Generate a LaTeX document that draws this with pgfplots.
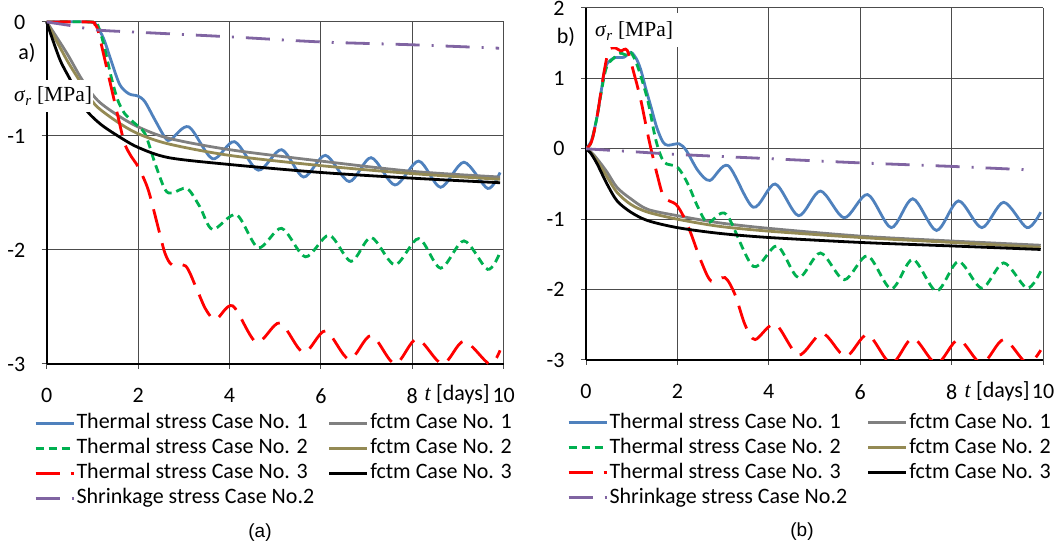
\documentclass[border=0pt]{standalone}
\usepackage{fontspec}
\setmainfont{Carlito}
\newfontfamily\capfont{Liberation Sans}
\newfontfamily\labfont{Liberation Serif}
\usepackage{pgfplots}
\pgfplotsset{compat=1.18}

\definecolor{cblue}{HTML}{4F81BD}
\definecolor{cgreen}{HTML}{00B050}
\definecolor{cred}{HTML}{FF0000}
\definecolor{cpurple}{HTML}{8064A2}
\definecolor{cgray}{HTML}{808080}
\definecolor{colive}{HTML}{948A54}

\pgfplotsset{
  panel/.style={
    scale only axis,
    xmin=0, xmax=10, xtick={0,2,...,10},
    grid=major, grid style={black!70, line width=1pt},
    axis x line*=bottom, axis y line*=left,
    axis line style={black, line width=1.8pt},
    tick align=outside, major tick length=5pt,
    tick style={black!70, line width=1pt},
    ticklabel style={font=\fontsize{22}{26}\selectfont},
    xticklabel style={yshift=-16pt},
    yticklabel style={xshift=-13pt},
    /pgf/number format/assume math mode=true,
    legend columns=2,
    legend cell align=left,
    legend style={draw=none, fill=none, inner sep=0pt, anchor=north west,
      font=\fontsize{22}{26}\selectfont, row sep=3pt, column sep=0pt,
      nodes={inner sep=1.5pt, text height=15pt, text depth=4pt}},
    legend image code/.code={\draw[##1] (0pt,0pt) -- (38pt,0pt);},
  },
  th1/.style={color=cblue, line width=2.8pt, smooth},
  th2/.style={color=cgreen, line width=2.8pt, smooth, dash pattern=on 8pt off 5pt},
  th3/.style={color=cred, line width=2.8pt, smooth, dash pattern=on 24pt off 11pt},
  shr/.style={color=cpurple, line width=2.8pt, smooth, dash pattern=on 24pt off 12pt on 2pt off 12pt},
  fc1/.style={color=cgray, line width=2.8pt, smooth},
  fc2/.style={color=colive, line width=2.8pt, smooth},
  fc3/.style={color=black, line width=2.8pt, smooth},
}

\begin{document}
\begin{tikzpicture}
\useasboundingbox (0,0) rectangle (1057pt,548pt);

% ---- panel (a)
\begin{axis}[panel, at={(46.7pt,184pt)}, anchor=south west,
  width=457pt, height=342pt,
  ymin=-3, ymax=0, ytick={-3,-2,-1,0}, clip=false,
  legend style={at={(-12.7pt,-48pt)}}]
\addplot[th1] coordinates {(0,0) (0.95,0) (1.1,-0.04) (1.25,-0.15) (1.41,-0.34) (1.6,-0.55) (1.8,-0.63) (2.0,-0.65) (2.15,-0.7) (2.37,-0.86) (2.6,-1.02) (2.72,-1.03) (3.11,-0.92) (3.63,-1.2) (4.11,-1.05) (4.63,-1.3) (5.14,-1.12) (5.62,-1.36) (6.1,-1.17) (6.62,-1.4) (7.1,-1.19) (7.62,-1.43) (8.14,-1.22) (8.62,-1.45) (9.13,-1.23) (9.65,-1.46) (9.92,-1.32)};
\addlegendentry{\makebox[250pt][l]{Thermal stress Case No. 1}}
\addplot[fc1] coordinates {(0,0) (0.1,-0.06) (0.45,-0.28) (0.78,-0.51) (1.12,-0.69) (1.56,-0.82) (2,-0.92) (2.67,-1.02) (4,-1.12) (6,-1.22) (8,-1.31) (9.92,-1.36)};
\addlegendentry{fctm Case No. 1}
\addplot[th2] coordinates {(0,0) (1.0,0) (1.12,-0.03) (1.25,-0.2) (1.41,-0.48) (1.55,-0.68) (1.7,-0.8) (1.9,-0.88) (2.15,-0.98) (2.37,-1.24) (2.59,-1.47) (2.75,-1.5) (3.07,-1.46) (3.35,-1.62) (3.63,-1.82) (4.15,-1.69) (4.63,-1.98) (5.14,-1.81) (5.66,-2.06) (6.18,-1.87) (6.66,-2.1) (7.1,-1.89) (7.62,-2.13) (8.14,-1.9) (8.62,-2.16) (9.13,-1.92) (9.65,-2.17) (9.92,-2.02)};
\addlegendentry{Thermal stress Case No. 2}
\addplot[fc2] coordinates {(0,0) (0.1,-0.08) (0.45,-0.34) (0.71,-0.51) (0.9,-0.64) (1.12,-0.75) (1.56,-0.88) (2,-0.98) (2.67,-1.07) (4,-1.17) (6,-1.26) (8,-1.33) (9.92,-1.38)};
\addlegendentry{fctm Case No. 2}
\addplot[th3] coordinates {(0,0) (0.95,0) (1.05,-0.02) (1.12,-0.07) (1.26,-0.31) (1.41,-0.57) (1.56,-0.83) (1.7,-1.06) (1.85,-1.18) (2.0,-1.27) (2.22,-1.47) (2.45,-1.82) (2.59,-2.03) (2.74,-2.13) (3.04,-2.14) (3.26,-2.32) (3.48,-2.52) (3.7,-2.61) (4.07,-2.49) (4.59,-2.81) (5.1,-2.64) (5.62,-2.9) (6.1,-2.71) (6.62,-2.96) (7.1,-2.75) (7.62,-3.0) (8.1,-2.78) (8.66,-3.0) (9.13,-2.8) (9.69,-3.0) (9.92,-2.88)};
\addlegendentry{Thermal stress Case No. 3}
\addplot[fc3] coordinates {(0,0) (0.1,-0.12) (0.3,-0.34) (0.52,-0.51) (0.7,-0.66) (0.9,-0.79) (1.19,-0.9) (1.56,-1.0) (2.0,-1.1) (2.67,-1.19) (4,-1.25) (6,-1.32) (8,-1.37) (9.92,-1.41)};
\addlegendentry{fctm Case No. 3}
\addplot[shr] coordinates {(0,0) (0.5,-0.03) (1.1,-0.07) (2,-0.09) (4,-0.13) (6,-0.175) (8,-0.2) (9.9,-0.23)};
\addlegendentry{Shrinkage stress Case No.2}
\end{axis}

% ---- panel (b)
\begin{axis}[panel, at={(586pt,188pt)}, anchor=south west,
  width=457pt, height=352pt,
  ymin=-3, ymax=2, ytick={-3,-2,...,2},
  legend style={at={(-19pt,-48pt)}}]
\addplot[th1] coordinates {(0,0) (0.12,0.12) (0.24,0.45) (0.34,0.85) (0.43,1.17) (0.61,1.29) (0.83,1.3) (0.98,1.37) (1.1,1.28) (1.2,1.12) (1.31,0.85) (1.42,0.6) (1.55,0.3) (1.68,0.1) (1.79,0.05) (2.04,0.07) (2.2,-0.03) (2.45,-0.31) (2.71,-0.45) (3.11,-0.24) (3.66,-0.83) (4.14,-0.5) (4.65,-0.95) (5.13,-0.6) (5.65,-0.98) (6.16,-0.65) (6.68,-1.12) (7.15,-0.71) (7.67,-1.16) (8.15,-0.74) (8.66,-1.12) (9.14,-0.76) (9.65,-1.12) (9.95,-0.9)};
\addlegendentry{\makebox[256pt][l]{Thermal stress Case No. 1}}
\addplot[fc1] coordinates {(0,0) (0.1,-0.04) (0.24,-0.14) (0.46,-0.33) (0.68,-0.55) (0.98,-0.71) (1.35,-0.86) (2,-0.95) (2.9,-1.05) (4,-1.13) (6,-1.24) (8,-1.31) (9.95,-1.37)};
\addlegendentry{fctm Case No. 1}
\addplot[th2] coordinates {(0,0) (0.12,0.1) (0.24,0.45) (0.43,1.12) (0.61,1.29) (0.76,1.36) (0.87,1.33) (0.98,1.37) (1.13,1.17) (1.35,0.69) (1.53,0.12) (1.71,-0.19) (2.0,-0.26) (2.23,-0.5) (2.45,-0.83) (2.67,-1.05) (3.07,-0.93) (3.66,-1.67) (4.18,-1.38) (4.65,-1.83) (5.13,-1.48) (5.65,-1.86) (6.16,-1.52) (6.68,-1.99) (7.15,-1.57) (7.67,-2.02) (8.15,-1.6) (8.66,-1.98) (9.14,-1.62) (9.65,-1.98) (9.95,-1.74)};
\addlegendentry{Thermal stress Case No. 2}
\addplot[fc2] coordinates {(0,0) (0.1,-0.05) (0.24,-0.17) (0.46,-0.4) (0.68,-0.62) (0.98,-0.79) (1.35,-0.9) (2,-1.0) (2.9,-1.1) (4,-1.17) (6,-1.26) (8,-1.33) (9.95,-1.4)};
\addlegendentry{fctm Case No. 2}
\addplot[th3] coordinates {(0,0) (0.12,0.1) (0.24,0.45) (0.39,1.07) (0.5,1.4) (0.65,1.43) (0.76,1.39) (0.9,1.4) (1.05,1.07) (1.2,0.69) (1.38,0.12) (1.57,-0.4) (1.71,-0.69) (1.97,-0.79) (2.15,-0.98) (2.3,-1.21) (2.52,-1.6) (2.74,-1.88) (3.04,-1.83) (3.26,-2.07) (3.48,-2.5) (3.7,-2.71) (4.14,-2.49) (4.65,-2.93) (5.17,-2.62) (5.68,-2.95) (6.16,-2.64) (6.68,-3.05) (7.15,-2.69) (7.67,-3.05) (8.15,-2.71) (8.66,-3.05) (9.14,-2.71) (9.65,-3.05) (9.95,-2.86)};
\addlegendentry{Thermal stress Case No. 3}
\addplot[fc3] coordinates {(0,0) (0.1,-0.06) (0.24,-0.21) (0.46,-0.5) (0.68,-0.74) (0.98,-0.9) (1.35,-1.02) (2,-1.12) (2.9,-1.2) (4,-1.26) (6,-1.33) (8,-1.38) (9.95,-1.43)};
\addlegendentry{fctm Case No. 3}
\addplot[shr] coordinates {(0,0) (1,-0.04) (2,-0.08) (4,-0.14) (6,-0.2) (8,-0.25) (9.7,-0.3)};
\addlegendentry{Shrinkage stress Case No.2}
\end{axis}

% labels inside the plots (white boxes as in the source)
\fill[white] (13pt,436pt) rectangle (93pt,468pt);
\node[inner sep=0pt, font=\labfont\fontsize{21.5}{24}\selectfont] at (53pt,452pt) {\textit{σ}\textsubscript{\textit{r}} [MPa]};
\node[font=\fontsize{22}{26}\selectfont] at (27pt,495pt) {a)};
\fill[white] (590pt,501pt) rectangle (682pt,535pt);
\node[inner sep=0pt, font=\labfont\fontsize{21.5}{24}\selectfont] at (634pt,517pt) {\textit{σ}\textsubscript{\textit{r}} [MPa]};
\node[font=\fontsize{22}{26}\selectfont] at (566pt,511pt) {b)};
\node[anchor=base west, font=\fontsize{22}{26}\selectfont] at (421pt,147pt) {{\labfont\textit{t}} [days]};
\node[anchor=base west, font=\fontsize{22}{26}\selectfont] at (961pt,150pt) {{\labfont\textit{t}} [days]};
\node[font=\capfont\fontsize{19}{22}\selectfont] at (260pt,15pt) {(a)};
\node[font=\capfont\fontsize{19}{22}\selectfont] at (802pt,16pt) {(b)};
\end{tikzpicture}
\end{document}
